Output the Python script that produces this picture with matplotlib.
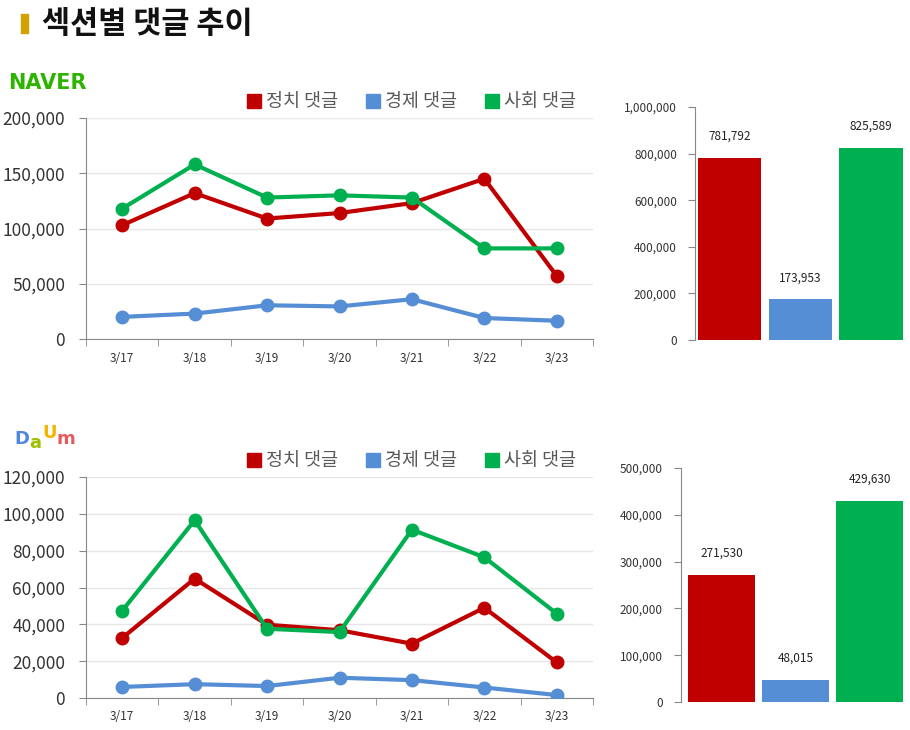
import matplotlib.pyplot as plt
from matplotlib.lines import Line2D
from matplotlib.patches import Rectangle

plt.rcParams['font.family'] = ['Noto Sans CJK KR', 'DejaVu Sans']

# Data
dates = ['3/17', '3/18', '3/19', '3/20', '3/21', '3/22', '3/23']
series_names = ['정치 댓글', '경제 댓글', '사회 댓글']
colors = ['#C00000', '#558ED5', '#00B050']

naver_politics = [103000, 132000, 109000, 114000, 123000, 145000, 57000]
naver_economy = [20000, 23000, 30500, 29500, 36000, 19000, 16500]
naver_society = [118000, 158000, 128000, 130000, 128000, 82000, 82000]
naver_totals = [781792, 173953, 825589]

daum_politics = [32600, 64800, 39800, 36800, 29500, 49000, 19300]
daum_economy = [6000, 7500, 6500, 11000, 9700, 5700, 1600]
daum_society = [47400, 96500, 37600, 35800, 91400, 76400, 45800]
daum_totals = [271530, 48015, 429630]

W, H = 910, 730
fig = plt.figure(figsize=(W / 100, H / 100), dpi=100)


def box(l, t, r, b):
    return [l / W, 1 - b / H, (r - l) / W, (b - t) / H]


def line_chart(rect, series, ymax, ystep):
    ax = fig.add_axes(rect)
    x = range(len(dates))
    for vals, c in zip(series, colors):
        ax.plot(x, vals, color=c, lw=3, marker='o', ms=9, zorder=3)
    ax.set_xlim(-0.5, len(dates) - 0.5)
    ax.set_ylim(0, ymax)
    ax.set_yticks(range(0, ymax + 1, ystep))
    ax.set_yticklabels([f'{v:,}' for v in range(0, ymax + 1, ystep)])
    ax.set_xticks(list(x))
    ax.set_xticklabels(dates)
    ax.set_xticks([i - 0.5 for i in range(len(dates) + 1)], minor=True)
    ax.tick_params(axis='x', which='major', length=0, pad=9, labelsize=8.5, labelcolor='#333333')
    ax.tick_params(axis='x', which='minor', length=5, color='#888888')
    ax.tick_params(axis='y', length=5, color='#888888', pad=10, labelsize=12.5, labelcolor='#333333')
    ax.grid(axis='y', color='#E6E6E6', lw=1)
    ax.set_axisbelow(True)
    for s in ['top', 'right']:
        ax.spines[s].set_visible(False)
    for s in ['left', 'bottom']:
        ax.spines[s].set_color('#888888')
    handles = [Line2D([], [], marker='s', ls='none', color=c, ms=9.5) for c in colors]
    leg = ax.legend(handles, series_names, loc='center right', bbox_to_anchor=(0.982, 1.072),
                    ncol=3, frameon=False, fontsize=13.3, handlelength=0.7, handletextpad=0.3,
                    columnspacing=1.55, borderaxespad=0)
    for t in leg.get_texts():
        t.set_color('#595959')
    return ax


def bar_chart(rect, totals, ymax, ystep, xleft):
    ax = fig.add_axes(rect)
    x = range(len(totals))
    ax.bar(x, totals, width=0.9, color=colors)
    for i, v in zip(x, totals):
        ax.annotate(f'{v:,}', (i, v), xytext=(0, 11), textcoords='offset points',
                    ha='center', va='bottom', fontsize=8.5, color='#222222')
    ax.set_xlim(xleft, 2.48)
    ax.set_ylim(0, ymax)
    ax.set_yticks(range(0, ymax + 1, ystep))
    ax.set_yticklabels([f'{v:,}' for v in range(0, ymax + 1, ystep)])
    ax.set_xticks([])
    ax.tick_params(axis='y', length=5, color='#888888', pad=8, labelsize=8.5, labelcolor='#333333')
    for s in ['top', 'right', 'bottom']:
        ax.spines[s].set_visible(False)
    ax.spines['left'].set_color('#888888')
    return ax


line_chart(box(86, 118, 593, 339), [naver_politics, naver_economy, naver_society], 200000, 50000)
bar_chart(box(695, 107, 905, 340), naver_totals, 1000000, 200000, -0.49)
line_chart(box(86, 477, 593, 698), [daum_politics, daum_economy, daum_society], 120000, 20000)
bar_chart(box(681, 468, 905, 702), daum_totals, 500000, 100000, -0.55)

# Title
fig.patches.append(Rectangle((21 / W, 1 - 33 / H), 7 / W, 19 / H, transform=fig.transFigure,
                             color='#D4A000'))
fig.text(42 / W, 1 - 24 / H, '섹션별 댓글 추이', fontsize=22, fontweight='bold', va='center', color='#111111')

# Logos
fig.text(8 / W, 1 - 83 / H, 'NAVER', fontsize=15, fontweight='heavy', va='center',
         color='#2DB400', family='DejaVu Sans')
logo = [('D', '#4F86E0', 14, 439), ('a', '#A0C000', 29.5, 443), ('U', '#F5B400', 42, 433), ('m', '#E8585A', 56.5, 439)]
for ch, c, lx, ly in logo:
    fig.text(lx / W, 1 - ly / H, ch, fontsize=13, fontweight='heavy', va='center',
             color=c, family='DejaVu Sans')

fig.savefig('out.png', dpi=100)
